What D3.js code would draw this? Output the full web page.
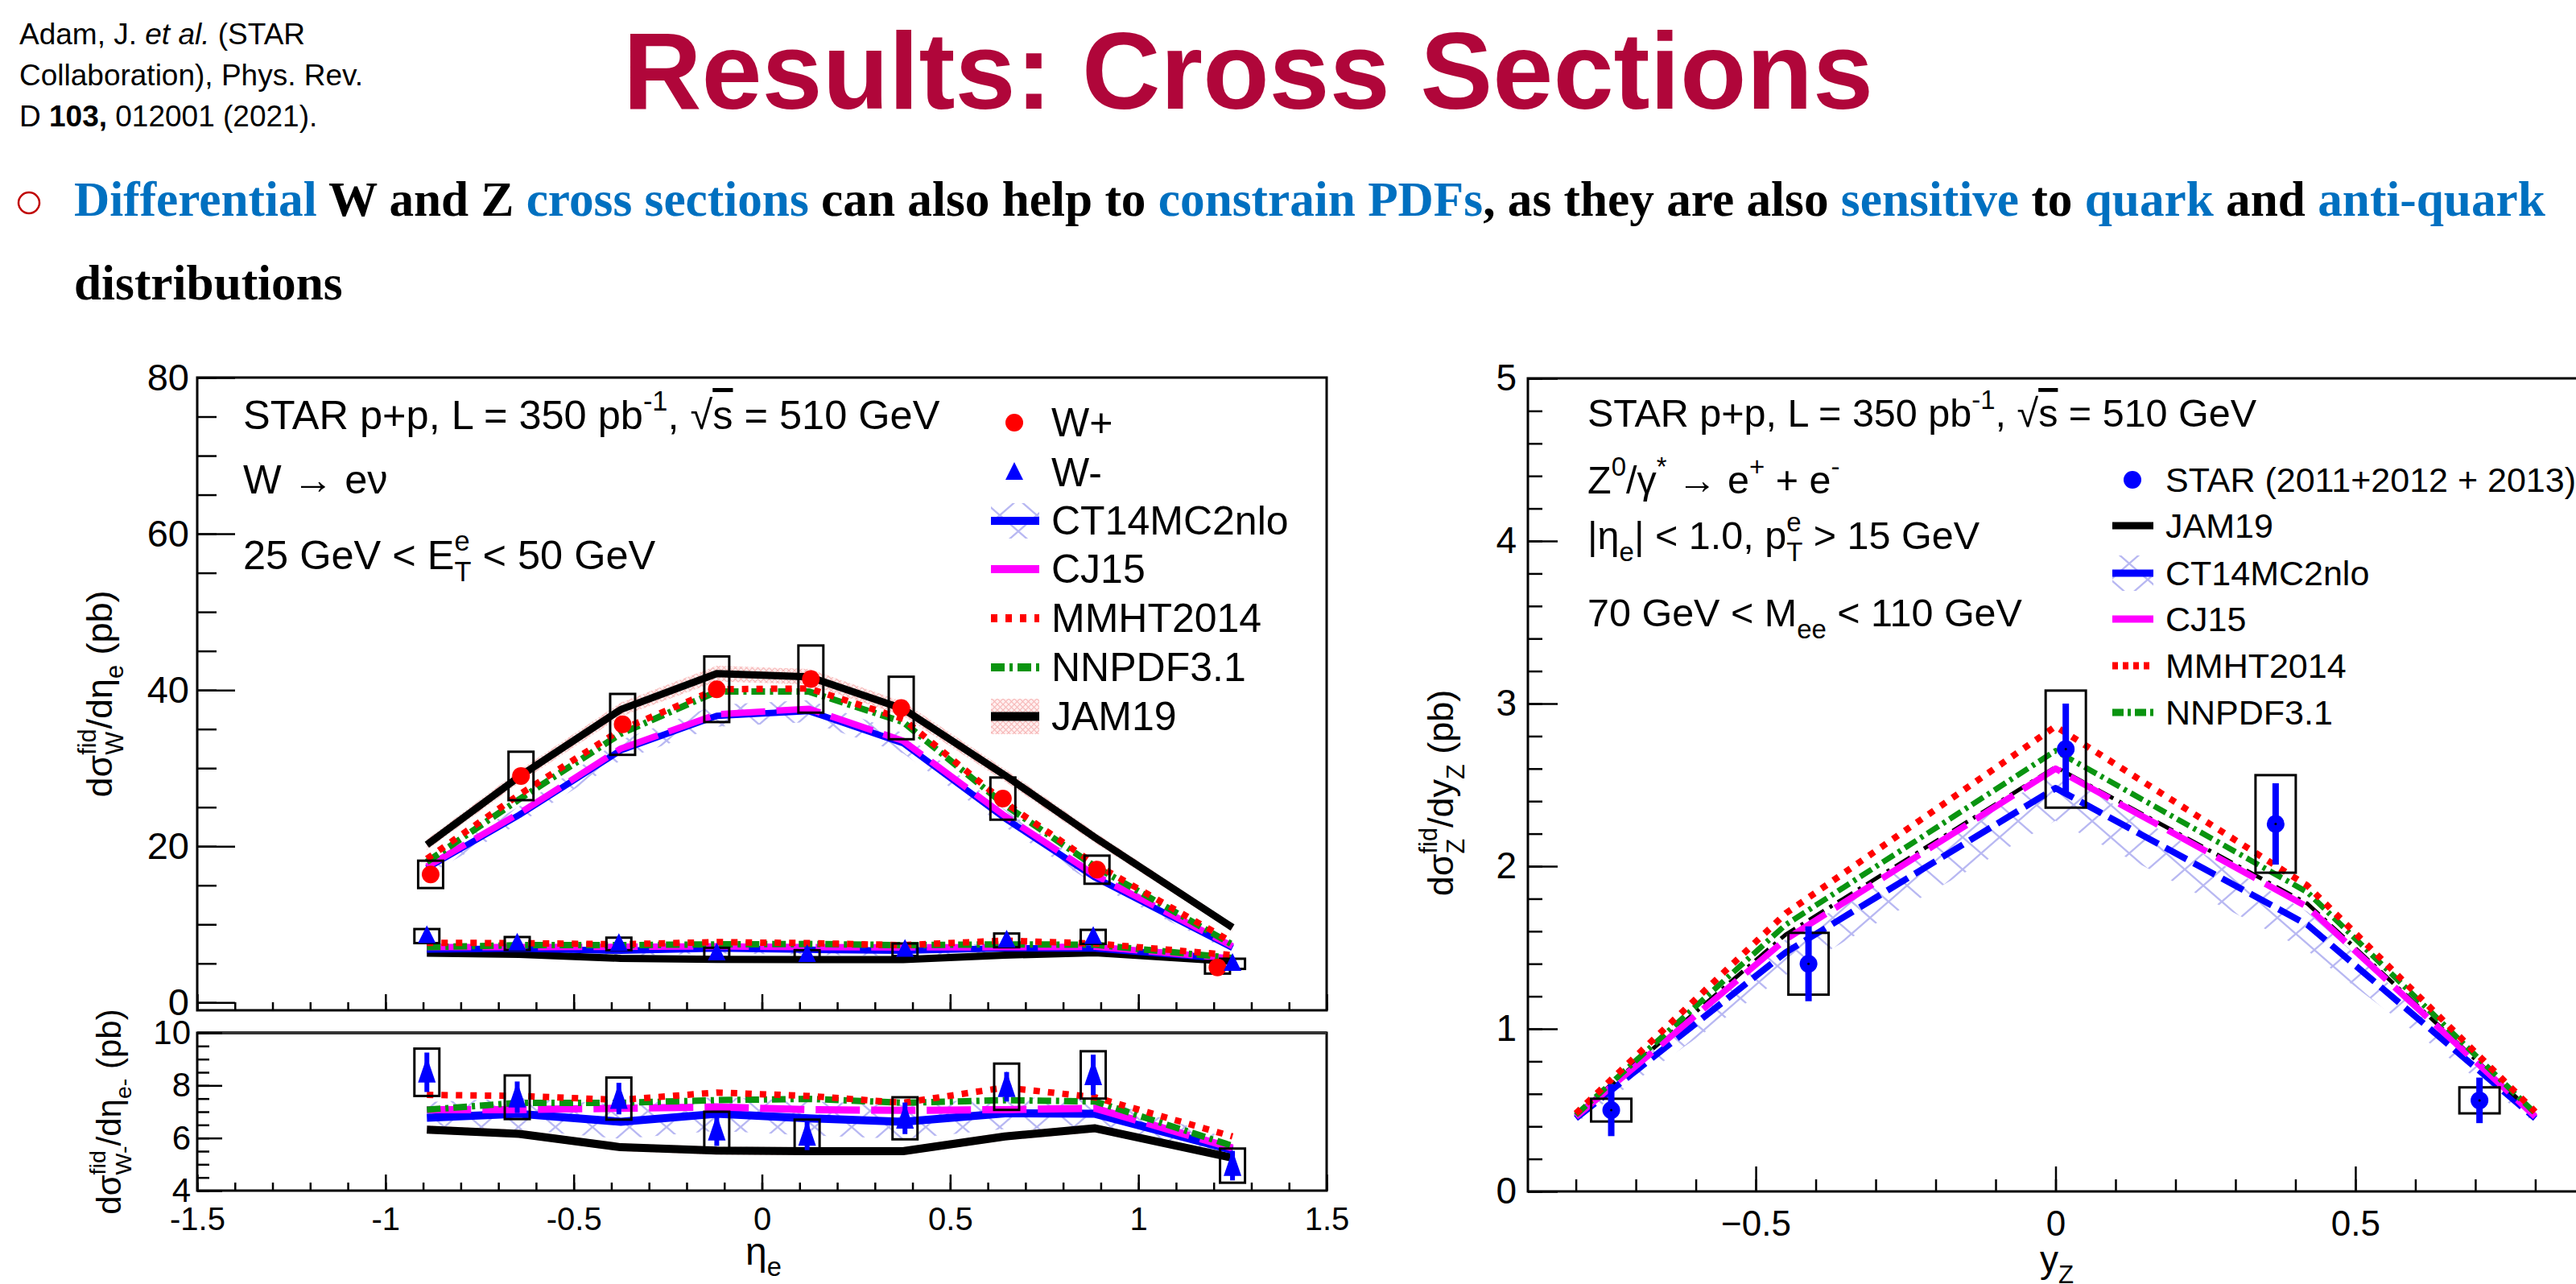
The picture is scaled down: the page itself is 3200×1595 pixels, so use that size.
<!DOCTYPE html>
<html><head><meta charset="utf-8">
<script src="https://cdn.jsdelivr.net/npm/d3@7"></script>
<style>body{margin:0;background:#fff}svg{display:block}</style>
</head><body>
<svg id="c" width="3200" height="1595"></svg>
<script>
// ---------------- DATA ----------------
const citationLines = [
  [{t:"Adam, J. "},{t:"et al.",italic:true},{t:" (STAR"}],
  [{t:"Collaboration), Phys. Rev."}],
  [{t:"D "},{t:"103,",bold:true},{t:" 012001 (2021)."}]
];
const titleText = "Results: Cross Sections";
const bulletParts = [["Differential",1],[" W and Z ",0],["cross sections",1],[" can also help to ",0],["constrain PDFs",1],[", as they are also ",0],["sensitive",1],[" to ",0],["quark",1],[" and ",0],["anti-quark",1]];
const bulletLine2 = "distributions";

// Left panel (W)
const etaTheory = [-0.89,-0.645,-0.375,-0.12,0.125,0.375,0.645,0.885,1.25];
const etaWplus  = [-0.88,-0.64,-0.37,-0.12,0.13,0.37,0.64,0.89,1.21];
const wPlus     = [16.4,29.0,35.6,40.1,41.4,37.7,26.1,17.0,4.5];
const wPlusStat = [0.6,0.8,0.9,0.9,0.9,0.9,0.8,0.6,0.4];
const wPlusSys  = [1.75,3.1,3.9,4.2,4.3,4.0,2.7,1.8,0.8];
const etaWminus = [-0.89,-0.65,-0.38,-0.12,0.12,0.38,0.65,0.88,1.25];
const wMinus     = [8.5,7.55,7.5,6.3,6.1,6.75,7.95,8.4,4.95];
const wMinusStat = [0.75,0.6,0.6,0.6,0.56,0.6,0.56,0.77,0.56];
const wMinusSys  = [0.9,0.83,0.8,0.7,0.6,0.8,0.88,0.9,0.65];

const jamWplus   = [20.2,28.9,37.5,42.1,41.7,37.6,29.1,21.1,9.6];
const mmhtWplus  = [18.4,26.6,34.9,40.1,40.2,36.3,25.6,17.7,7.7];
const nnpdfWplus = [18.0,26.0,34.4,39.8,39.8,35.9,25.3,17.4,7.4];
const cj15Wplus  = [17.4,24.2,32.5,36.9,37.6,33.5,23.9,16.3,7.2];
const ct14Wplus  = [17.2,24.0,32.3,36.7,37.3,33.2,23.6,16.0,7.0];
const jamWplusBand  = [0.7,0.8,0.9,1.0,1.0,0.9,0.8,0.7,0.5];
const ct14WplusBand = [0.9,1.1,1.3,1.4,1.4,1.3,1.1,0.9,0.6];

const jamWminus   = [6.32,6.16,5.65,5.52,5.50,5.50,6.06,6.37,5.25];
const ct14Wminus  = [6.77,6.92,6.62,6.92,6.75,6.62,6.94,6.92,5.55];
const cj15Wminus  = [7.08,7.08,7.13,7.18,7.08,7.05,7.08,7.13,5.62];
const mmhtWminus  = [7.64,7.60,7.45,7.73,7.60,7.34,7.92,7.55,6.06];
const nnpdfWminus = [7.08,7.34,7.34,7.44,7.49,7.34,7.44,7.39,5.70];
const jamWminusBand  = [0.15,0.15,0.15,0.15,0.15,0.15,0.15,0.15,0.12];
const ct14WminusBand = [0.6,0.6,0.65,0.65,0.65,0.65,0.6,0.6,0.4];

// Right panel (Z)
const yZ     = [-0.741,-0.412,0.017,0.367,0.707];
const zXs    = [0.50,1.40,2.72,2.26,0.56];
const zStat  = [0.16,0.23,0.28,0.25,0.14];
const zSys   = [0.07,0.19,0.36,0.30,0.08];
const yTheory = [-0.8,-0.45,0,0.42,0.8];
const mmhtZ  = [0.48,1.71,2.86,1.88,0.49];
const nnpdfZ = [0.47,1.64,2.71,1.84,0.48];
const jamZ   = [0.47,1.58,2.61,1.77,0.47];
const cj15Z  = [0.46,1.55,2.60,1.75,0.46];
const ct14Z  = [0.45,1.47,2.48,1.64,0.45];
const ct14ZLo = [0.42,1.33,2.28,1.48,0.42];
const ct14ZHi = [0.48,1.55,2.58,1.72,0.48];

// ticks
const leftXMajor = [-1.5,-1,-0.5,0,0.5,1,1.5];
const leftXLabels = ["-1.5","-1","-0.5","0","0.5","1","1.5"];
const upYMajor = [0,20,40,60,80];
const upYLabels = ["0","20","40","60","80"];
const loYMajor = [4,6,8,10];
const loYLabels = ["4","6","8","10"];
const rYMajor = [0,1,2,3,4,5];
const rYLabels = ["0","1","2","3","4","5"];
const rXMajor = [-0.5,0,0.5];
const rXLabels = ["\u22120.5","0","0.5"];
const leftLegendLabels = ["W+","W-","CT14MC2nlo","CJ15","MMHT2014","NNPDF3.1","JAM19"];
const rightLegendLabels = ["STAR (2011+2012 + 2013)","JAM19","CT14MC2nlo","CJ15","MMHT2014","NNPDF3.1"];

// --------------- DRAW ----------------
const FONT = "'Liberation Sans', Arial, Helvetica, sans-serif";
const SERIF = "'Liberation Serif', 'Times New Roman', serif";
const C = {red:"#ff0000", blue:"#0000ff", mag:"#ff00ff", green:"#0a9410", black:"#000000"};
const svg = d3.select("#c");

const defs = svg.append("defs");
const xp = defs.append("pattern").attr("id","xhatch").attr("patternUnits","userSpaceOnUse").attr("width",46).attr("height",40);
xp.append("path").attr("d","M0,0L46,40M46,0L0,40").attr("stroke","#b8b8f2").attr("stroke-width",2.4).attr("fill","none");
const pp = defs.append("pattern").attr("id","pinkmesh").attr("patternUnits","userSpaceOnUse").attr("width",7).attr("height",7);
pp.append("rect").attr("width",7).attr("height",7).attr("fill","#fff0f0");
pp.append("path").attr("d","M0,0L7,7M7,0L0,7").attr("stroke","#f7b8b8").attr("stroke-width",1.2).attr("fill","none");

function rich(parent, x, y, fs, parts, opt={}) {
  const t = parent.append("text").attr("x",x).attr("y",y)
    .attr("font-family", opt.family || FONT).attr("font-size", fs).attr("fill", opt.fill || "#000");
  if (opt.anchor) t.attr("text-anchor", opt.anchor);
  if (opt.transform) t.attr("transform", opt.transform);
  if (opt.weight) t.attr("font-weight", opt.weight);
  let cur = 0, prevW = 0, pendingDx = 0;
  parts.forEach(p => {
    const target = p.sup ? -0.45*fs : p.sub ? 0.3*fs : 0;
    const ts = t.append("tspan").text(p.t).attr("dy", target - cur);
    cur = target;
    if (p.sup || p.sub) ts.attr("font-size", fs*0.68);
    let dx = pendingDx; pendingDx = 0;
    if (p.back) dx -= prevW;
    if (dx) ts.attr("dx", dx);
    if (p.over) ts.style("text-decoration","overline");
    if (p.italic) ts.attr("font-style","italic");
    if (p.bold) ts.attr("font-weight","bold");
    if (p.fill) ts.attr("fill", p.fill);
    const w = ts.node().getComputedTextLength();
    if (p.back && w < prevW) pendingDx = prevW - w;
    prevW = w;
  });
  return t;
}

// ---- slide text ----
citationLines.forEach((ln,i) => rich(svg, 24, 55 + i*51, 37, ln));
svg.append("text").attr("x",774).attr("y",135).attr("font-family",FONT).attr("font-weight","bold")
  .attr("font-size",135).attr("fill","#b0063a").text(titleText);
svg.append("circle").attr("cx",36).attr("cy",252).attr("r",13).attr("fill","none").attr("stroke","#c00000").attr("stroke-width",2.5);
const bt = svg.append("text").attr("x",92).attr("y",268).attr("font-family",SERIF).attr("font-weight","bold").attr("font-size",58);
bulletParts.forEach(p => bt.append("tspan").text(p[0]).attr("fill", p[1] ? "#0070c0" : "#000"));
const bl = bt.node().getComputedTextLength();
bt.attr("font-size", 58 * 3071 / bl);
svg.append("text").attr("x",92).attr("y",372).attr("font-family",SERIF).attr("font-weight","bold")
  .attr("font-size",58 * 3071 / bl).attr("fill","#000").text(bulletLine2);

// ---- helpers ----
function styleAxis(a, fs) {
  a.select(".domain").remove();
  a.selectAll("line").attr("stroke","#000").attr("stroke-width",2.5);
  a.selectAll("text").attr("font-size",fs).attr("font-family",FONT).attr("fill","#000");
}
function yAxis(scale, x0, majors, labels, minors, majLen, minLen, fs, pad) {
  const g1 = svg.append("g").attr("transform",`translate(${x0},0)`)
    .call(d3.axisLeft(scale).tickValues(minors).tickSizeInner(-minLen).tickSizeOuter(0).tickFormat(()=>""));
  styleAxis(g1, fs);
  const g2 = svg.append("g").attr("transform",`translate(${x0},0)`)
    .call(d3.axisLeft(scale).tickValues(majors).tickSizeInner(-majLen).tickSizeOuter(0).tickPadding(pad).tickFormat((d,i)=>labels[i]));
  styleAxis(g2, fs);
}
function xAxis(scale, y0, majors, labels, minors, majLen, minLen, fs, pad) {
  const g1 = svg.append("g").attr("transform",`translate(0,${y0})`)
    .call(d3.axisBottom(scale).tickValues(minors).tickSizeInner(-minLen).tickSizeOuter(0).tickFormat(()=>""));
  styleAxis(g1, fs);
  const g2 = svg.append("g").attr("transform",`translate(0,${y0})`)
    .call(d3.axisBottom(scale).tickValues(majors).tickSizeInner(-majLen).tickSizeOuter(0).tickPadding(pad).tickFormat((d,i)=> labels ? labels[i] : ""));
  styleAxis(g2, fs);
}
function range(a,b,s){const r=[];for(let v=a;v<=b+1e-9;v+=s)r.push(+v.toFixed(4));return r;}
function curve(g, xs, ys, xS, yS, color, w, dash) {
  const line = d3.line().x((d,i)=>xS(xs[i])).y(d=>yS(d));
  const p = g.append("path").attr("d", line(ys)).attr("fill","none").attr("stroke",color).attr("stroke-width",w)
    .attr("stroke-linejoin","round");
  if (dash) p.attr("stroke-dasharray", dash);
}
function band(g, xs, lo, hi, xS, yS, fill) {
  const area = d3.area().x((d,i)=>xS(xs[i])).y0((d,i)=>yS(lo[i])).y1((d,i)=>yS(hi[i]));
  g.append("path").attr("d", area(lo)).attr("fill", fill);
}
function sysBoxes(g, xs, ys, sys, xS, yS, halfW) {
  ys.forEach((v,i)=> g.append("rect").attr("x", xS(xs[i])-halfW).attr("y", yS(v+sys[i]))
    .attr("width", 2*halfW).attr("height", yS(v-sys[i]) - yS(v+sys[i]))
    .attr("fill","none").attr("stroke","#000").attr("stroke-width",3));
}
function errBars(g, xs, ys, err, xS, yS, color, w) {
  ys.forEach((v,i)=> g.append("line").attr("x1",xS(xs[i])).attr("x2",xS(xs[i]))
    .attr("y1",yS(v+err[i])).attr("y2",yS(v-err[i])).attr("stroke",color).attr("stroke-width",w));
}
function triangles(g, xs, ys, xS, yS, w, h) {
  ys.forEach((v,i)=>{ const cx=xS(xs[i]), cy=yS(v);
    g.append("path").attr("d",`M${cx},${cy-h*0.6}L${cx+w/2},${cy+h*0.4}L${cx-w/2},${cy+h*0.4}Z`).attr("fill",C.blue); });
}
function circles(g, xs, ys, xS, yS, r, color, dot) {
  ys.forEach((v,i)=>{ g.append("circle").attr("cx",xS(xs[i])).attr("cy",yS(v)).attr("r",r).attr("fill",color);
    if (dot) g.append("circle").attr("cx",xS(xs[i])).attr("cy",yS(v)).attr("r",1.5).attr("fill","#000"); });
}
const DASH = {mmht:"8,10", nnpdf:"17,6,4,6", cj15:"55,14"};

// ---------------- LEFT UPPER ----------------
const xL = d3.scaleLinear().domain([-1.5,1.5]).range([245,1648]);
const yU = d3.scaleLinear().domain([-1,80]).range([1255,469]);
const yLo = d3.scaleLinear().domain([4,10]).range([1479,1283]);
const gU = svg.append("g");
band(gU, etaTheory, ct14Wplus.map((v,i)=>v-ct14WplusBand[i]), ct14Wplus.map((v,i)=>v+ct14WplusBand[i]), xL, yU, "url(#xhatch)");
band(gU, etaTheory, jamWplus.map((v,i)=>v-jamWplusBand[i]), jamWplus.map((v,i)=>v+jamWplusBand[i]), xL, yU, "url(#pinkmesh)");
band(gU, etaTheory, ct14Wminus.map((v,i)=>v-ct14WminusBand[i]), ct14Wminus.map((v,i)=>v+ct14WminusBand[i]), xL, yU, "url(#xhatch)");
band(gU, etaTheory, jamWminus.map((v,i)=>v-jamWminusBand[i]), jamWminus.map((v,i)=>v+jamWminusBand[i]), xL, yU, "url(#pinkmesh)");
[[jamWplus,jamWminus,C.black,9,null],[ct14Wplus,ct14Wminus,C.blue,8,null],[cj15Wplus,cj15Wminus,C.mag,8,DASH.cj15],
 [nnpdfWplus,nnpdfWminus,C.green,8,DASH.nnpdf],[mmhtWplus,mmhtWminus,C.red,8,DASH.mmht]].forEach(s=>{
  curve(gU, etaTheory, s[0], xL, yU, s[2], s[3], s[4]);
  curve(gU, etaTheory, s[1], xL, yU, s[2], s[3], s[4]);
});
sysBoxes(gU, etaWplus, wPlus, wPlusSys, xL, yU, 15.5);
sysBoxes(gU, etaWminus, wMinus, wMinusSys, xL, yU, 15.5);
errBars(gU, etaWplus, wPlus, wPlusStat, xL, yU, C.red, 5);
errBars(gU, etaWminus, wMinus, wMinusStat, xL, yU, C.blue, 5);
circles(gU, etaWplus, wPlus, xL, yU, 11, C.red, false);
triangles(gU, etaWminus, wMinus, xL, yU, 22, 22);
svg.append("rect").attr("x",245).attr("y",469).attr("width",1403).attr("height",786).attr("fill","none").attr("stroke","#000").attr("stroke-width",3);
yAxis(yU, 245, upYMajor, upYLabels, range(0,80,5), 47, 24, 47, 10);
xAxis(xL, 1255, leftXMajor, null, range(-1.5,1.5,0.1), 20, 10, 40, 10);

rich(svg, 302, 533, 50.5, [{t:"STAR p+p, L = 350 pb"},{t:"-1",sup:true},{t:",  \u221A"},{t:"s",over:true},{t:" = 510 GeV"}]);
rich(svg, 302, 613, 50.5, [{t:"W  \u2192 e\u03BD"}]);
rich(svg, 302, 707, 50.5, [{t:"25 GeV < E"},{t:"e",sup:true},{t:"T",sub:true,back:true},{t:" < 50 GeV"}]);
rich(svg, 0, 0, 45, [{t:"d\u03C3"},{t:"fid",sup:true},{t:"W",sub:true,back:true},{t:"/d\u03B7"},{t:"e",sub:true},{t:"  (pb)"}],
  {anchor:"middle", transform:"translate(139,862) rotate(-90)"});

// legend left
const lgU = svg.append("g");
const lgY = [525,587,647,707,768,829,890];
lgU.append("circle").attr("cx",1260).attr("cy",lgY[0]).attr("r",11).attr("fill",C.red);
lgU.append("path").attr("d",`M1260,${lgY[1]-13}L1271,${lgY[1]+9}L1249,${lgY[1]+9}Z`).attr("fill",C.blue);
lgU.append("rect").attr("x",1231).attr("y",lgY[2]-22).attr("width",60).attr("height",44).attr("fill","url(#xhatch)");
lgU.append("line").attr("x1",1231).attr("x2",1291).attr("y1",lgY[2]).attr("y2",lgY[2]).attr("stroke",C.blue).attr("stroke-width",10);
lgU.append("line").attr("x1",1231).attr("x2",1291).attr("y1",lgY[3]).attr("y2",lgY[3]).attr("stroke",C.mag).attr("stroke-width",10);
lgU.append("line").attr("x1",1231).attr("x2",1291).attr("y1",lgY[4]).attr("y2",lgY[4]).attr("stroke",C.red).attr("stroke-width",10).attr("stroke-dasharray",DASH.mmht);
lgU.append("line").attr("x1",1231).attr("x2",1291).attr("y1",lgY[5]).attr("y2",lgY[5]).attr("stroke",C.green).attr("stroke-width",10).attr("stroke-dasharray",DASH.nnpdf);
lgU.append("rect").attr("x",1231).attr("y",lgY[6]-22).attr("width",60).attr("height",44).attr("fill","url(#pinkmesh)");
lgU.append("line").attr("x1",1231).attr("x2",1291).attr("y1",lgY[6]).attr("y2",lgY[6]).attr("stroke",C.black).attr("stroke-width",11);
leftLegendLabels.forEach((s,i)=> lgU.append("text").attr("x",1306).attr("y",lgY[i]+17).attr("font-family",FONT).attr("font-size",50).text(s));

// ---------------- LEFT LOWER ----------------
const gL = svg.append("g");
band(gL, etaTheory, ct14Wminus.map((v,i)=>v-ct14WminusBand[i]), ct14Wminus.map((v,i)=>v+ct14WminusBand[i]), xL, yLo, "url(#xhatch)");
band(gL, etaTheory, jamWminus.map((v,i)=>v-jamWminusBand[i]), jamWminus.map((v,i)=>v+jamWminusBand[i]), xL, yLo, "url(#pinkmesh)");
[[jamWminus,C.black,10,null],[ct14Wminus,C.blue,10,null],[cj15Wminus,C.mag,9,DASH.cj15],
 [nnpdfWminus,C.green,8,DASH.nnpdf],[mmhtWminus,C.red,8,DASH.mmht]].forEach(s=> curve(gL, etaTheory, s[0], xL, yLo, s[1], s[2], s[3]));
sysBoxes(gL, etaWminus, wMinus, wMinusSys, xL, yLo, 15.5);
errBars(gL, etaWminus, wMinus, wMinusStat, xL, yLo, C.blue, 6);
triangles(gL, etaWminus, wMinus, xL, yLo, 22, 32);
svg.append("rect").attr("x",245).attr("y",1283).attr("width",1403).attr("height",196).attr("fill","none").attr("stroke","#000").attr("stroke-width",3);
svg.append("line").attr("x1",245).attr("x2",1648).attr("y1",1283).attr("y2",1283).attr("stroke","#333").attr("stroke-width",4);
yAxis(yLo, 245, loYMajor, loYLabels, range(4,10,0.5), 31, 15, 42, 8);
xAxis(xL, 1479, leftXMajor, leftXLabels, range(-1.5,1.5,0.1), 20, 10, 40, 21);
rich(svg, 0, 0, 42, [{t:"d\u03C3"},{t:"fid",sup:true},{t:"W-",sub:true,back:true},{t:"/d\u03B7"},{t:"e-",sub:true},{t:"  (pb)"}],
  {anchor:"middle", transform:"translate(150,1381) rotate(-90)"});
rich(svg, 926, 1571, 48, [{t:"\u03B7"},{t:"e",sub:true}]);

// ---------------- RIGHT ----------------
const xR = d3.scaleLinear().domain([-0.88,0.88]).range([1898,3209]);
const yR = d3.scaleLinear().domain([0,5]).range([1480,470]);
const gR = svg.append("g");
band(gR, yTheory, ct14ZLo, ct14ZHi, xR, yR, "url(#xhatch)");
curve(gR, yTheory, ct14Z, xR, yR, C.blue, 8, "30,10");
curve(gR, yTheory, jamZ, xR, yR, C.black, 5, "22,8,4,8");
curve(gR, yTheory, cj15Z, xR, yR, C.mag, 8, DASH.cj15);
curve(gR, yTheory, nnpdfZ, xR, yR, C.green, 7, DASH.nnpdf);
curve(gR, yTheory, mmhtZ, xR, yR, C.red, 8, DASH.mmht);
sysBoxes(gR, yZ, zXs, zSys, xR, yR, 25);
errBars(gR, yZ, zXs, zStat, xR, yR, C.blue, 8);
circles(gR, yZ, zXs, xR, yR, 11, C.blue, true);
svg.append("rect").attr("x",1898).attr("y",470).attr("width",1311).attr("height",1010).attr("fill","none").attr("stroke","#000").attr("stroke-width",3);
yAxis(yR, 1898, rYMajor, rYLabels, range(0,5,0.2), 37, 18, 46, 14);
xAxis(xR, 1480, rXMajor, rXLabels, range(-0.8,0.8,0.1), 31, 15, 44, 24);

rich(svg, 1972, 530, 48.5, [{t:"STAR p+p, L = 350 pb"},{t:"-1",sup:true},{t:",  \u221A"},{t:"s",over:true},{t:" = 510 GeV"}]);
rich(svg, 1972, 613, 48.5, [{t:"Z"},{t:"0",sup:true},{t:"/\u03B3"},{t:"*",sup:true},{t:"  \u2192 e"},{t:"+",sup:true},{t:" + e"},{t:"-",sup:true}]);
rich(svg, 1972, 682, 48.5, [{t:"|\u03B7"},{t:"e",sub:true},{t:"| < 1.0, p"},{t:"e",sup:true},{t:"T",sub:true,back:true},{t:" > 15 GeV"}]);
rich(svg, 1972, 778, 48.5, [{t:"70 GeV < M"},{t:"ee",sub:true},{t:" < 110 GeV"}]);
rich(svg, 0, 0, 45, [{t:"d\u03C3"},{t:"fid",sup:true},{t:"Z",sub:true,back:true},{t:"/dy"},{t:"Z",sub:true},{t:"  (pb)"}],
  {anchor:"middle", transform:"translate(1805,985) rotate(-90)"});
rich(svg, 2534, 1580, 46, [{t:"y"},{t:"Z",sub:true}]);

const lgR = svg.append("g");
const rY = [596,653,712,769,827,885];
lgR.append("circle").attr("cx",2649).attr("cy",rY[0]).attr("r",11).attr("fill",C.blue);
lgR.append("line").attr("x1",2624).attr("x2",2675).attr("y1",rY[1]).attr("y2",rY[1]).attr("stroke",C.black).attr("stroke-width",9);
lgR.append("rect").attr("x",2624).attr("y",rY[2]-22).attr("width",51).attr("height",44).attr("fill","url(#xhatch)");
lgR.append("line").attr("x1",2624).attr("x2",2675).attr("y1",rY[2]).attr("y2",rY[2]).attr("stroke",C.blue).attr("stroke-width",9);
lgR.append("line").attr("x1",2624).attr("x2",2675).attr("y1",rY[3]).attr("y2",rY[3]).attr("stroke",C.mag).attr("stroke-width",9);
lgR.append("line").attr("x1",2624).attr("x2",2675).attr("y1",rY[4]).attr("y2",rY[4]).attr("stroke",C.red).attr("stroke-width",9).attr("stroke-dasharray","7,6");
lgR.append("line").attr("x1",2624).attr("x2",2675).attr("y1",rY[5]).attr("y2",rY[5]).attr("stroke",C.green).attr("stroke-width",9).attr("stroke-dasharray","14,5,4,5");
rightLegendLabels.forEach((s,i)=> lgR.append("text").attr("x",2690).attr("y",rY[i]+15).attr("font-family",FONT).attr("font-size",43).text(s));
</script>
</body></html>
